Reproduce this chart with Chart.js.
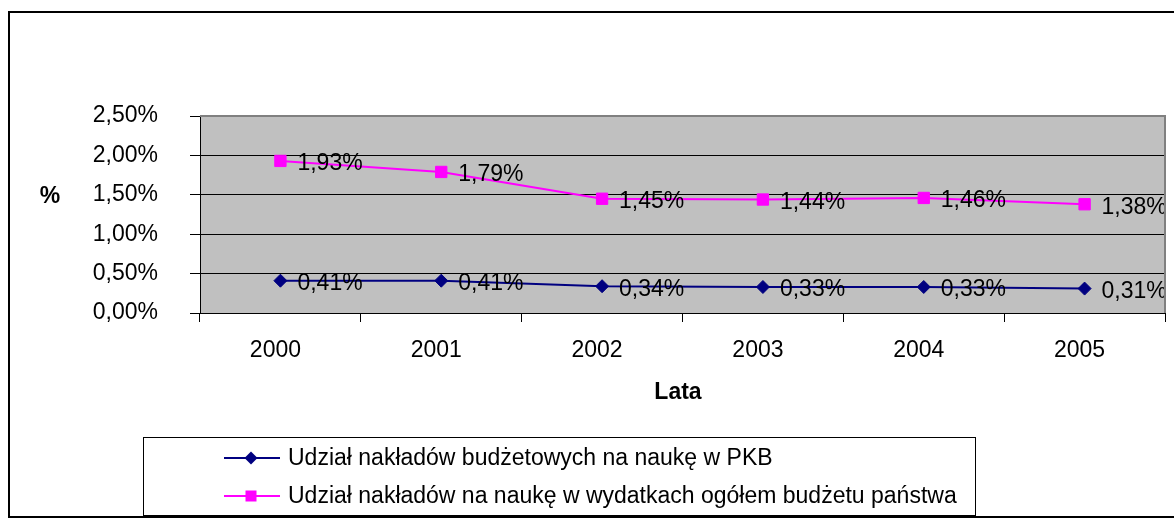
<!DOCTYPE html>
<html lang="pl">
<head>
<meta charset="UTF-8">
<title>Udział nakładów na naukę</title>
<script src="https://cdn.jsdelivr.net/npm/chart.js"></script>
<style>
    html, body { margin: 0; padding: 0; background: #fff; }
</style>
</head>
<body>
<canvas id="chart" width="1174" height="527"></canvas>
<script>
    // data
    const years = ['2000', '2001', '2002', '2003', '2004', '2005'];
    const pkbShare = [0.41, 0.41, 0.34, 0.33, 0.33, 0.31];
    const budgetShare = [1.93, 1.79, 1.45, 1.44, 1.46, 1.38];
    const yTicks = [0, 0.5, 1, 1.5, 2, 2.5];
    const seriesNames = [
        'Udział nakładów budżetowych na naukę w PKB',
        'Udział nakładów na naukę w wydatkach ogółem budżetu państwa'
    ];

    const FONT = 'Arial, "Liberation Sans", sans-serif';
    const pct = v => v.toFixed(2).replace('.', ',') + '%';

    Chart.defaults.font.family = FONT;
    Chart.defaults.font.size = 23;
    Chart.defaults.color = '#000';

    function drawMarker(ctx, style, x, y, color) {
        ctx.fillStyle = color;
        ctx.beginPath();
        if (style === 'rectRot') {
            ctx.moveTo(x, y - 6.5);
            ctx.lineTo(x + 6.5, y);
            ctx.lineTo(x, y + 6.5);
            ctx.lineTo(x - 6.5, y);
            ctx.closePath();
        } else {
            ctx.rect(x - 5.5, y - 5.5, 11, 11);
        }
        ctx.fill();
    }

    // background, frame, labels and legend
    const excelFrame = {
        id: 'excelFrame',
        beforeDraw(chart) {
            const {ctx, chartArea: a} = chart;
            ctx.save();
            ctx.fillStyle = '#fff';
            ctx.fillRect(0, 0, chart.width, chart.height);
            ctx.fillStyle = '#C0C0C0';
            ctx.fillRect(a.left, a.top, a.right - a.left, a.bottom - a.top);
            ctx.restore();
        },
        afterDatasetsDraw(chart) {
            const ctx = chart.ctx;
            ctx.save();
            ctx.font = '23px ' + FONT;
            ctx.fillStyle = '#000';
            ctx.textAlign = 'left';
            ctx.textBaseline = 'middle';
            chart.data.datasets.forEach((ds, i) => {
                chart.getDatasetMeta(i).data.forEach((pt, j) => {
                    ctx.fillText(pct(ds.data[j]), pt.x + 17, pt.y + 3);
                });
            });
            ctx.restore();
        },
        afterDraw(chart) {
            const {ctx, chartArea: a} = chart;
            ctx.save();
            // plot border (top / right)
            ctx.strokeStyle = '#808080';
            ctx.lineWidth = 2;
            ctx.beginPath();
            ctx.moveTo(a.left, a.top);
            ctx.lineTo(a.right, a.top);
            ctx.lineTo(a.right, a.bottom);
            ctx.stroke();

            // outer frame
            ctx.strokeStyle = '#000';
            ctx.lineWidth = 2;
            ctx.strokeRect(9, 12, 1190, 505);

            // axis titles
            ctx.font = 'bold 23px ' + FONT;
            ctx.fillStyle = '#000';
            ctx.textAlign = 'center';
            ctx.textBaseline = 'middle';
            ctx.fillText('%', 50, 197);
            ctx.fillText('Lata', 678, 393);

            // legend
            ctx.lineWidth = 1;
            ctx.strokeStyle = '#000';
            ctx.strokeRect(143.5, 437.5, 832, 78);
            const rows = [458, 496];
            chart.data.datasets.forEach((ds, i) => {
                const y = rows[i];
                ctx.strokeStyle = ds.borderColor;
                ctx.lineWidth = 2;
                ctx.beginPath();
                ctx.moveTo(224, y);
                ctx.lineTo(280, y);
                ctx.stroke();
                drawMarker(ctx, ds.pointStyle, 251, y, ds.borderColor);
                ctx.fillStyle = '#000';
                ctx.font = '23px ' + FONT;
                ctx.textAlign = 'left';
                ctx.fillText(ds.label, 288, y + 1);
            });
            ctx.restore();
        }
    };

    new Chart(document.getElementById('chart'), {
        type: 'line',
        data: {
            labels: years,
            datasets: [{
                label: seriesNames[0],
                data: pkbShare,
                borderColor: '#000080',
                backgroundColor: '#000080',
                borderWidth: 2,
                pointStyle: 'rectRot',
                pointRadius: 6.5,
                pointBorderWidth: 1,
                tension: 0
            }, {
                label: seriesNames[1],
                data: budgetShare,
                borderColor: '#FF00FF',
                backgroundColor: '#FF00FF',
                borderWidth: 2,
                pointStyle: 'rect',
                pointRadius: 8,
                pointBorderWidth: 1,
                tension: 0
            }]
        },
        options: {
            responsive: false,
            animation: false,
            layout: { padding: { left: 0, top: 116, right: 6, bottom: 0 } },
            plugins: {
                legend: { display: false },
                tooltip: { enabled: false }
            },
            scales: {
                x: {
                    offset: true,
                    grid: {
                        offset: true,
                        drawOnChartArea: false,
                        drawTicks: true,
                        tickLength: 9,
                        color: '#000',
                        tickColor: '#000'
                    },
                    border: { color: '#000', width: 1 },
                    ticks: { padding: 15, labelOffset: -5, maxRotation: 0, autoSkip: false },
                    afterFit: s => { s.height = 214; }
                },
                y: {
                    min: 0,
                    max: 2.5,
                    grid: {
                        color: c => (c.tick && c.tick.value === 2.5) ? '#808080' : '#000',
                        tickColor: '#000',
                        tickLength: 10
                    },
                    border: { color: '#000', width: 1 },
                    ticks: { padding: 32, callback: v => pct(v) },
                    afterBuildTicks: s => { s.ticks = yTicks.map(v => ({ value: v })); },
                    afterFit: s => { s.width = 200; }
                }
            }
        },
        plugins: [excelFrame]
    });
</script>
</body>
</html>
